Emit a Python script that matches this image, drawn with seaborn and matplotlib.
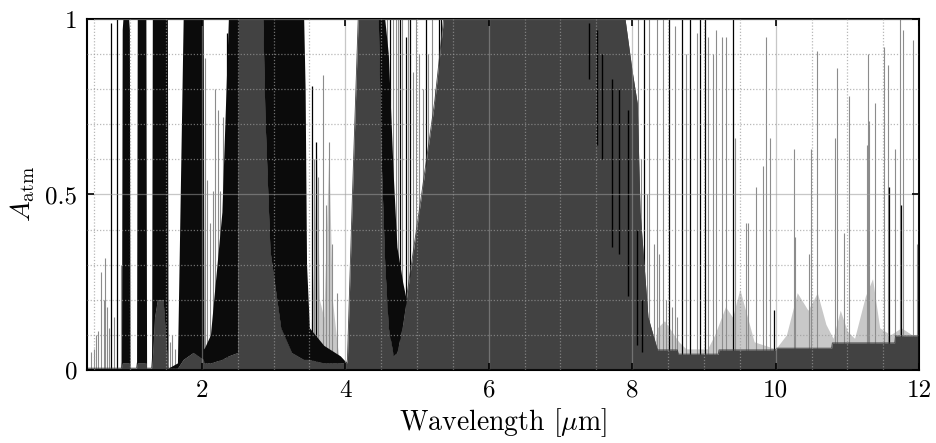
import numpy as np
import matplotlib
matplotlib.use('Agg')
import matplotlib.pyplot as plt
from matplotlib.ticker import MultipleLocator
import seaborn as sns

# atmospheric absorption
# wl [um], a_floor = solid (grey) part, a_dense = top of the black band of dense lines
wl = [0.40, 0.88, 0.89, 0.90, 0.98, 0.99, 1.00, 1.09, 1.10, 1.22, 1.23, 1.30,
      1.31, 1.34, 1.38, 1.46, 1.50, 1.52, 1.53, 1.66, 1.74, 1.88, 2.02, 2.03,
      2.12, 2.28, 2.37, 2.50, 2.51, 2.85, 2.88, 2.95, 3.10, 3.25, 3.42, 3.44,
      3.46, 3.50, 3.70, 3.93, 4.02, 4.03, 4.10, 4.18, 4.46, 4.50, 4.55, 4.60,
      4.67, 4.72, 4.80, 4.85, 5.05, 5.25, 5.37, 7.37, 7.90, 8.00, 8.07, 8.11,
      8.22, 8.35, 8.63, 8.64, 9.20, 9.21, 10.00, 10.01, 10.78, 10.79, 11.66, 11.67,
      12.00]
a_floor = [0.005, 0.005, 0.02, 0.02, 0.02, 0.02, 0.005, 0.005, 0.02, 0.02, 0.005, 0.005,
           0.03, 0.15, 0.20, 0.20, 0.08, 0.03, 0.005, 0.005, 0.03, 0.05, 0.03, 0.02,
           0.02, 0.03, 0.04, 0.05, 1.00, 1.00, 0.72, 0.34, 0.12, 0.05, 0.03, 0.03,
           0.03, 0.03, 0.02, 0.02, 0.02, 0.03, 0.50, 1.00, 1.00, 0.60, 0.30, 0.12,
           0.04, 0.05, 0.13, 0.20, 0.48, 0.77, 1.00, 1.00, 1.00, 0.85, 0.76, 0.45,
           0.15, 0.057, 0.057, 0.045, 0.045, 0.057, 0.057, 0.062, 0.062, 0.077, 0.077, 0.097,
           0.097]
a_dense = [0.005, 0.005, 0.97, 1.00, 1.00, 0.97, 0.005, 0.005, 1.00, 1.00, 0.005, 0.005,
           1.00, 1.00, 1.00, 1.00, 1.00, 1.00, 0.005, 0.02, 1.00, 1.00, 1.00, 0.06,
           0.10, 0.45, 1.00, 1.00, 1.00, 1.00, 1.00, 1.00, 1.00, 1.00, 1.00, 0.80,
           0.30, 0.12, 0.07, 0.04, 0.02, 0.03, 0.50, 1.00, 1.00, 1.00, 1.00, 0.90,
           0.55, 0.35, 0.25, 0.20, 0.48, 0.77, 1.00, 1.00, 1.00, 0.85, 0.76, 0.45,
           0.15, 0.057, 0.057, 0.045, 0.045, 0.057, 0.057, 0.062, 0.062, 0.077, 0.077, 0.097,
           0.097]

# light grey clusters of weak lines
haze_wl = [3.50, 3.56, 3.60, 3.64, 3.70, 3.77, 3.82, 3.90, 3.95, 8.25, 8.35, 8.45,
           8.55, 8.65, 8.75, 9.05, 9.15, 9.30, 9.40, 9.50, 9.58, 9.70, 10.00, 10.15,
           10.30, 10.45, 10.58, 10.70, 10.80, 10.90, 11.00, 11.10, 11.25, 11.35, 11.45, 11.60,
           11.75, 11.90, 12.00]
haze_top = [0.0, 0.30, 0.62, 0.20, 0.15, 0.62, 0.20, 0.05, 0.0, 0.0, 0.12, 0.14,
            0.11, 0.08, 0.06, 0.06, 0.10, 0.18, 0.15, 0.23, 0.17, 0.08, 0.06, 0.10,
            0.22, 0.17, 0.22, 0.13, 0.09, 0.17, 0.11, 0.09, 0.21, 0.26, 0.12, 0.10,
            0.12, 0.10, 0.10]

# strong single lines (black)
line_wl = [0.73, 0.82, 2.35, 3.53, 3.59, 4.63, 4.76, 4.84, 4.90, 5.12, 5.30, 5.34,
           8.17, 8.51, 8.69, 8.80, 8.95, 9.01, 9.40, 9.97, 11.58, 11.74]
line_top = [0.99, 1.00, 0.96, 0.81, 0.65, 1.00, 1.00, 0.95, 1.00, 1.00, 1.00, 1.00,
            1.00, 1.00, 1.00, 1.00, 1.00, 1.00, 1.00, 0.17, 0.52, 0.47]

# weaker single lines (grey)
faint_wl = [0.45, 0.50, 0.53, 0.55, 0.60, 0.63, 0.65, 0.68, 0.70, 0.77, 0.87, 1.55,
            1.58, 1.62, 2.05, 2.07, 2.12, 2.15, 2.19, 2.22, 2.25, 2.30, 3.56, 3.62,
            3.69, 3.73, 3.77, 3.81, 3.88, 4.58, 4.66, 4.70, 4.73, 4.79, 4.87, 4.95,
            4.98, 5.03, 5.08, 5.16, 5.21, 5.25, 8.08, 8.12, 8.20, 8.24, 8.30, 8.35,
            8.38, 8.43, 8.47, 8.55, 8.59, 8.63, 8.75, 8.90, 9.06, 9.12, 9.17, 9.25,
            9.31, 9.43, 9.59, 9.62, 9.73, 9.83, 9.87, 9.92, 10.25, 10.27, 10.46, 10.49,
            10.57, 10.83, 10.86, 10.95, 11.02, 11.27, 11.28, 11.30, 11.39, 11.51, 11.56, 11.66,
            11.73, 11.78, 11.92, 11.97]
faint_top = [0.05, 0.06, 0.10, 0.11, 0.28, 0.20, 0.32, 0.18, 0.12, 0.15, 0.30, 0.08,
             0.10, 0.06, 0.89, 0.54, 0.42, 0.51, 0.80, 0.74, 0.51, 0.72, 0.60, 0.55,
             0.84, 0.47, 0.65, 0.36, 0.22, 1.00, 1.00, 1.00, 1.00, 1.00, 1.00, 0.85,
             1.00, 0.90, 0.80, 0.90, 1.00, 0.80, 1.00, 0.60, 0.50, 1.00, 0.36, 1.00,
             0.33, 1.00, 0.20, 0.18, 0.98, 0.15, 0.90, 0.96, 0.95, 0.90, 0.97, 0.95,
             0.95, 0.66, 0.42, 0.42, 0.52, 0.58, 0.95, 0.66, 0.63, 0.38, 0.33, 0.63,
             0.91, 0.66, 0.86, 0.39, 0.78, 0.64, 0.90, 0.71, 0.76, 0.92, 0.87, 0.63,
             1.00, 0.97, 0.94, 0.36]

# black streaks inside the grey block at the 8 um edge
streak_wl = [7.40, 7.51, 7.58, 7.72, 7.82, 7.94, 8.06, 8.14]
streak_lo = [0.83, 0.64, 0.60, 0.35, 0.33, 0.21, 0.07, 0.05]
streak_hi = [0.99, 0.97, 0.90, 0.83, 0.80, 0.74, 0.40, 0.20]

x_ticks = [2, 4, 6, 8, 10, 12]
x_tick_labels = ['2', '4', '6', '8', '10', '12']
y_ticks = [0, 0.5, 1]
y_tick_labels = ['0', '0.5', '1']

fill_grey = '#424242'

sns.set_theme(style='ticks')
plt.rcParams['font.family'] = ['cmr10', 'DejaVu Serif']
plt.rcParams['mathtext.fontset'] = 'cm'
plt.rcParams['axes.unicode_minus'] = False

fig = plt.figure(figsize=(9.36, 4.43), dpi=100)
ax = fig.add_axes([0.093, 0.165, 0.889, 0.792])

ax.fill_between(haze_wl, 0, haze_top, color='#c8c8c8', lw=0, zorder=1)
ax.vlines(faint_wl, 0, faint_top, color='#8c8c8c', lw=0.8, zorder=1.5)
ax.vlines(line_wl, 0, line_top, color='black', lw=0.9, zorder=1.6)
ax.fill_between(wl, 0, a_floor, color=fill_grey, lw=0, zorder=2)
sns.lineplot(x=wl, y=a_floor, color=fill_grey, lw=0.6, estimator=None, sort=False,
             ax=ax, zorder=2.1)
ax.fill_between(wl, a_floor, a_dense, color='#0b0b0b', lw=0, zorder=2.3)
ax.vlines(streak_wl, streak_lo, streak_hi, color='black', lw=1.0, zorder=2.4)

ax.set_xlim(0.4, 12)
ax.set_ylim(0, 1)
ax.set_xticks(x_ticks, labels=x_tick_labels)
ax.set_yticks(y_ticks, labels=y_tick_labels)
ax.xaxis.set_minor_locator(MultipleLocator(0.5))
ax.yaxis.set_minor_locator(MultipleLocator(0.1))
ax.set_axisbelow(False)
ax.grid(which='major', color='#9a9a9a', alpha=0.55, lw=0.9, ls='-')
ax.grid(which='minor', color='#9a9a9a', alpha=0.7, lw=0.9, ls=(0, (1, 1.5)))

ax.tick_params(which='major', direction='in', length=5, width=1.2, top=True, right=True,
               labelsize=18, pad=7, colors='black')
ax.tick_params(which='minor', length=0, top=True, right=True)
for s in ax.spines.values():
    s.set_visible(True)
    s.set_linewidth(1.5)
    s.set_color('black')

ax.set_xlabel(r'Wavelength [$\mu$m]', fontsize=20, labelpad=3, color='black')
ax.set_ylabel(r'$A_{\rm atm}$', fontsize=20, labelpad=6, color='black')

fig.savefig('out.png', dpi=100)
